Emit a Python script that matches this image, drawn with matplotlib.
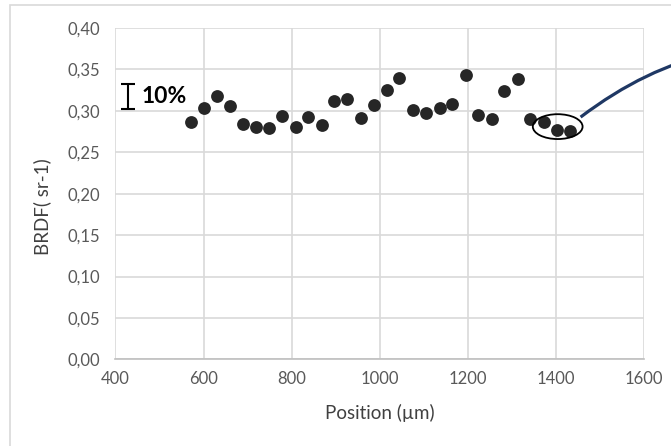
import matplotlib.pyplot as plt
from matplotlib.patches import Ellipse, Rectangle, PathPatch
from matplotlib.path import Path
from matplotlib.ticker import FuncFormatter

plt.rcParams['font.family'] = ['Lato', 'DejaVu Sans']

# BRDF measured along the sample
position = [572, 601, 631, 659, 690, 719, 749, 778, 809, 837,
            868, 897, 926, 957, 986, 1016, 1043, 1076, 1106, 1136,
            1164, 1195, 1224, 1255, 1283, 1313, 1342, 1372, 1402, 1432]
brdf = [0.286, 0.303, 0.318, 0.306, 0.284, 0.281, 0.279, 0.294, 0.281, 0.293,
        0.283, 0.312, 0.314, 0.292, 0.307, 0.325, 0.340, 0.301, 0.297, 0.304,
        0.308, 0.343, 0.295, 0.290, 0.324, 0.338, 0.290, 0.287, 0.277, 0.276]

x_ticks = [400, 600, 800, 1000, 1200, 1400, 1600]
y_ticks = [0.00, 0.05, 0.10, 0.15, 0.20, 0.25, 0.30, 0.35, 0.40]

fig = plt.figure(figsize=(6.71, 4.46), dpi=100)
ax = fig.add_axes([0.1721, 0.194, 0.7877, 0.7432])

# outer chart border (cropped at right/bottom)
fig.patches.append(Rectangle((0.0149, -0.5), 2, 0.9888 + 0.5, transform=fig.transFigure,
                             fill=False, edgecolor='#D9D9D9', linewidth=1.2))

ax.scatter(position, brdf, s=85, color='#262626', zorder=3, linewidths=0)

ax.set_xlim(x_ticks[0], x_ticks[-1])
ax.set_ylim(y_ticks[0], y_ticks[-1])
ax.set_xticks(x_ticks)
ax.set_yticks(y_ticks)
ax.yaxis.set_major_formatter(FuncFormatter(lambda v, p: f"{v:.2f}".replace('.', ',')))
ax.grid(True, color='#D9D9D9', linewidth=1.2)
ax.set_axisbelow(True)
for side in ['top', 'right', 'left']:
    ax.spines[side].set_visible(False)
ax.spines['bottom'].set_color('#BFBFBF')
ax.spines['bottom'].set_linewidth(1.2)
ax.tick_params(length=0, labelsize=12, labelcolor='#595959')
ax.tick_params(axis='y', pad=11)
ax.tick_params(axis='x', pad=8)

fig.text(0.0626, 0.536, 'BRDF( sr-1)', rotation=90, ha='center', va='center',
         fontsize=13.5, color='#404040')
fig.text(0.566, 0.074, 'Position (µm)', ha='center', va='center',
         fontsize=13.5, color='#404040')

# 10% scale bar
ax.errorbar([428], [0.317], yerr=[0.015], color='black', capsize=5, elinewidth=1.5,
            capthick=1.5, fmt='none')
ax.text(460, 0.317, '10%', fontsize=16.5, fontweight='bold', ha='left', va='center',
        color='black')

# highlight last points
ax.add_patch(Ellipse((1404, 0.281), 113, 0.030, fill=False, edgecolor='black',
                     linewidth=1.3, zorder=4))
curve = Path([(1456, 0.2925), (1605, 0.3525), (1755, 0.369)],
             [Path.MOVETO, Path.CURVE3, Path.CURVE3])
ax.add_patch(PathPatch(curve, fill=False, edgecolor='#1F3864', linewidth=2.3,
                       clip_on=False, zorder=4))

fig.savefig('out.png', dpi=100)
